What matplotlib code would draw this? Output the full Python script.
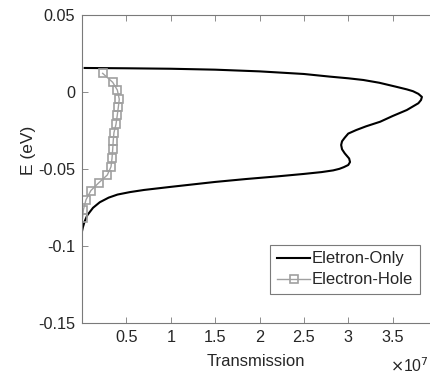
import numpy as np
import matplotlib
matplotlib.use('Agg')
import matplotlib.pyplot as plt

# Eletron-Only (transmissao x1e7, energia em eV)
only_T = [0.03, 0.5, 1.0, 1.5, 2.0, 2.5, 2.79, 3.0, 3.17, 3.35, 3.54, 3.66, 3.73, 3.79, 3.83,
          3.82, 3.79, 3.66, 3.5, 3.36, 3.2, 3.09, 3.0, 2.96, 2.93, 2.92, 2.93, 2.96, 3.01,
          3.02, 3.0, 2.95, 2.9, 2.83, 2.7, 2.5, 2.2, 1.85, 1.5, 1.0, 0.7, 0.54, 0.4, 0.3,
          0.2, 0.124, 0.06, 0.03, 0.01, 0.0]
only_E = [0.0156, 0.0154, 0.0151, 0.0145, 0.0134, 0.0117, 0.0100, 0.0089, 0.0078, 0.0060,
          0.0034, 0.0017, 0.0005, -0.0012, -0.0032, -0.0052, -0.0073, -0.0117, -0.0156,
          -0.0193, -0.0223, -0.0247, -0.0270, -0.0297, -0.0320, -0.0344, -0.0372, -0.0398,
          -0.0432, -0.0455, -0.0474, -0.0488, -0.0499, -0.0509, -0.0520, -0.0532, -0.0548,
          -0.0565, -0.0584, -0.0616, -0.0636, -0.0650, -0.0666, -0.0686, -0.0716, -0.0752,
          -0.0800, -0.0840, -0.0878, -0.0905]

# Electron-Hole
eh_T = [0.233, 0.346, 0.398, 0.42, 0.41, 0.398, 0.383, 0.36, 0.352, 0.346, 0.338, 0.327,
        0.285, 0.19, 0.10, 0.045, 0.015, 0.006]
eh_E = [0.0121, 0.0063, 0.0013, -0.0047, -0.0095, -0.0149, -0.0210, -0.0264, -0.0316,
        -0.0372, -0.0431, -0.0485, -0.0539, -0.0589, -0.0640, -0.0700, -0.0766, -0.0820]

xticks = [0.5, 1, 1.5, 2, 2.5, 3, 3.5]
yticks = [-0.15, -0.1, -0.05, 0, 0.05]

plt.rcParams['font.family'] = ['Liberation Sans', 'DejaVu Sans']

fig = plt.figure(figsize=(4.3, 3.76), dpi=100)
ax = fig.add_axes([82 / 430, 53 / 376, 355 / 430, 308 / 376])

ax.plot(only_T, only_E, color='black', lw=1.5, label='Eletron-Only')
ax.plot(eh_T, eh_E, color='#a0a0a0', lw=1.0, marker='s', ms=5.8, mfc='none',
        mew=1.2, mec='#a0a0a0', label='Electron-Hole')

ax.set_xlim(0, 4)
ax.set_ylim(-0.15, 0.05)
ax.set_xticks(xticks)
ax.set_xticklabels(['0.5', '1', '1.5', '2', '2.5', '3', '3.5'])
ax.set_yticks(yticks)
ax.set_yticklabels(['-0.15', '-0.1', '-0.05', '0', '0.05'])

for s in ax.spines.values():
    s.set_color('#7a7a7a')
    s.set_linewidth(0.8)
ax.spines['right'].set_visible(False)
ax.tick_params(direction='in', length=4, width=0.6, color='#7a7a7a',
               labelcolor='#262626', labelsize=11.7, top=True, right=False, pad=5)

ax.set_xlabel('Transmission', color='#262626', fontsize=12)
ax.set_ylabel('E (eV)', color='#262626', fontsize=12.5)
ax.yaxis.set_label_coords(-0.13, 0.56)
ax.xaxis.set_label_coords(0.49, -0.10)

fig.text(390 / 430, 1 - 366 / 376, r'$\times$10$^{7}$', color='#262626', fontsize=11.3,
         ha='left', va='center')

leg = ax.legend(loc='lower right', bbox_to_anchor=(338 / 355, 29 / 308), fontsize=12,
                fancybox=False, framealpha=1, edgecolor='#7a7a7a', handlelength=2.0,
                handletextpad=0.1, borderpad=0.4, labelspacing=0.35, borderaxespad=0)
leg.get_frame().set_linewidth(0.8)
for t in leg.get_texts():
    t.set_color('#262626')

fig.savefig('out.png', dpi=100)
